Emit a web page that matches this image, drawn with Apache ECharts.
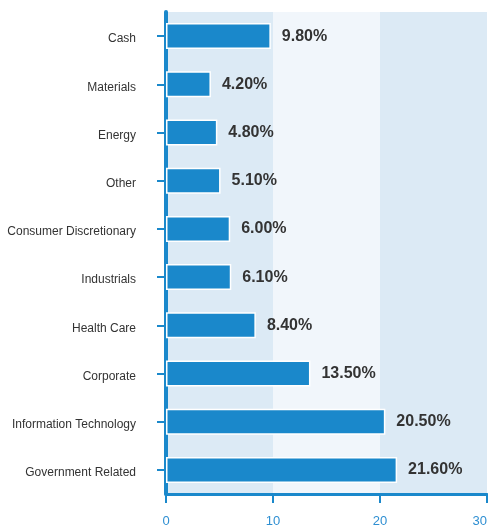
<!DOCTYPE html>
<html>
<head>
<meta charset="utf-8">
<script src="https://cdn.jsdelivr.net/npm/echarts@6/dist/echarts.min.js"></script>
<style>
  html, body { margin: 0; padding: 0; background: #ffffff; }
  #chart { width: 488px; height: 526px; }
</style>
</head>
<body>
<div id="chart"></div>
<script>
// Sector allocation (%), listed top to bottom
const categories = [
  'Cash', 'Materials', 'Energy', 'Other', 'Consumer Discretionary',
  'Industrials', 'Health Care', 'Corporate', 'Information Technology', 'Government Related'
];
const weights = [9.8, 4.2, 4.8, 5.1, 6.0, 6.1, 8.4, 13.5, 20.5, 21.6];
const xTicks = [0, 10, 20, 30];

const blue = '#1a88cb';
const font = '"Liberation Sans", Arial, sans-serif';

const chart = echarts.init(document.getElementById('chart'), null, { renderer: 'canvas' });
chart.setOption({
  animation: false,
  backgroundColor: '#ffffff',
  grid: { left: 166, right: 1, top: 12, bottom: 32, containLabel: false, outerBoundsMode: 'none' },
  xAxis: {
    type: 'value',
    min: xTicks[0],
    max: xTicks[xTicks.length - 1],
    interval: 10,
    axisLine: { show: true, onZero: false, lineStyle: { color: blue, width: 3 } },
    axisTick: { show: true, length: 9, lineStyle: { color: blue, width: 2 } },
    axisLabel: { color: '#2f8fd2', fontSize: 13, fontFamily: font, margin: 21, alignMaxLabel: 'right' },
    splitLine: { show: false },
    splitArea: { show: true, areaStyle: { color: ['#dceaf5', '#f1f6fb'] } }
  },
  yAxis: {
    type: 'category',
    data: categories,
    inverse: true,
    axisLine: { show: true, lineStyle: { color: blue, width: 4 } },
    axisTick: { show: true, alignWithLabel: true, length: 9, lineStyle: { color: blue, width: 2 } },
    axisLabel: {
      margin: 30,
      formatter: v => '{c|' + v + '}',
      rich: { c: { color: '#333333', fontSize: 12, fontFamily: font, padding: [6, 0, 0, 0] } }
    },
    splitLine: { show: false }
  },
  series: [{
    type: 'bar',
    data: weights,
    barWidth: 26,
    itemStyle: { color: blue, borderColor: '#ffffff', borderWidth: 1.5 },
    label: {
      show: true,
      position: 'right',
      distance: 11,
      color: '#333333',
      fontSize: 16,
      fontWeight: 'bold',
      fontFamily: font,
      formatter: p => p.value.toFixed(2) + '%'
    }
  }]
});
</script>
</body>
</html>
